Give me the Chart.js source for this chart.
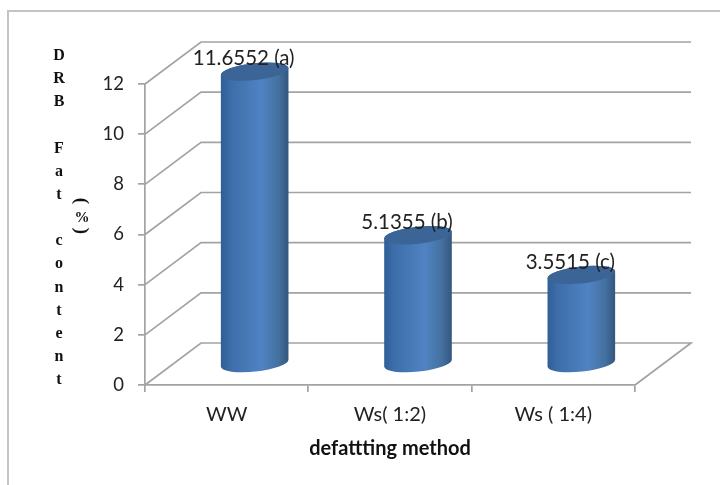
<!DOCTYPE html>
<html>
<head>
<meta charset="utf-8">
<script src="https://cdn.jsdelivr.net/npm/chart.js@4"></script>
<style>
html,body{margin:0;padding:0;background:#fff;overflow:hidden}
canvas{display:block;filter:blur(0.6px)}
</style>
</head>
<body>
<canvas id="c" width="720" height="485"></canvas>
<script>
const categories = ['WW', 'Ws( 1:2)', 'Ws ( 1:4)'];
const fatContent = [11.6552, 5.1355, 3.5515];
const significance = ['a', 'b', 'c'];
const yTitleLines = ['D','R','B','','F','a','t','','c','o','n','t','e','n','t'];
const xTitle = 'defattting method';
const depthX = 56, depthY = 42;
const gridColor = '#a3a3a3';

const canvasEl = document.getElementById('c');
canvasEl.getContext('2d').letterSpacing = '0.01px';

const scene = {
  id: 'scene',
  beforeDraw(chart) {
    const {ctx, scales: {x, y}} = chart;
    ctx.save();
    ctx.strokeStyle = '#c4c4c4'; ctx.lineWidth = 2;
    ctx.beginPath(); ctx.moveTo(720, 11); ctx.lineTo(8, 11); ctx.lineTo(8, 485); ctx.stroke();
    ctx.strokeStyle = gridColor; ctx.lineWidth = 1.7;
    const L = x.left, R = x.right;
    y.ticks.forEach(t => {
      const py = y.getPixelForValue(t.value);
      ctx.beginPath();
      ctx.moveTo(L, py);
      ctx.lineTo(L + depthX, py - depthY);
      ctx.lineTo(R + depthX, py - depthY);
      if (t.value === 0) ctx.lineTo(R, py);
      ctx.stroke();
    });
    // stacked axis title
    ctx.fillStyle = '#111';
    ctx.font = 'bold 16px "Liberation Serif"';
    ctx.textAlign = 'center'; ctx.textBaseline = 'middle';
    yTitleLines.forEach((s, i) => { if (s) ctx.fillText(s, 59, 56 + i * 23.15); });
    ctx.font = 'bold 15px "Liberation Serif"';
    ctx.fillText('%', 82, 218);
    [['(', 201], [')', 231]].forEach(([s, py]) => {
      ctx.save(); ctx.translate(81, py); ctx.rotate(Math.PI / 2);
      ctx.font = 'bold 19px "Liberation Serif"'; ctx.fillText(s, 0, 0); ctx.restore();
    });
    ctx.restore();
  },
  beforeDatasetDraw(chart, args) {
    const {ctx} = chart;
    const meta = args.meta;
    const tilt = -6.2 * Math.PI / 180, ry = 8.5;
    meta.data.forEach(bar => {
      const cx = bar.x + depthX / 2, top = bar.y - depthY / 2, base = bar.base - depthY / 2;
      const rx = bar.width / 2;
      const g = ctx.createLinearGradient(cx - rx, 0, cx + rx, 0);
      g.addColorStop(0, '#2f5e95'); g.addColorStop(0.15, '#3d6ea9');
      g.addColorStop(0.6, '#5083c3'); g.addColorStop(0.85, '#44719f'); g.addColorStop(1, '#33567f');
      ctx.save();
      ctx.beginPath();
      ctx.ellipse(cx, top, rx, ry, tilt, Math.PI, 0, false);
      ctx.ellipse(cx, base, rx, ry, tilt, 0, Math.PI, false);
      ctx.closePath();
      ctx.fillStyle = g; ctx.fill();
      ctx.beginPath();
      ctx.ellipse(cx, top, rx, ry, tilt, 0, Math.PI * 2);
      ctx.fillStyle = '#3a6596'; ctx.fill();
      ctx.restore();
    });
    return false;
  },
  afterDatasetsDraw(chart) {
    const {ctx} = chart;
    const meta = chart.getDatasetMeta(0);
    ctx.save();
    ctx.fillStyle = '#222';
    ctx.font = '20.5px Lato';
    ctx.textAlign = 'center'; ctx.textBaseline = 'middle';
    meta.data.forEach((bar, i) => {
      const label = fatContent[i].toFixed(4) + ' (' + significance[i] + ')';
      ctx.fillText(label, bar.x + 17, bar.y - depthY / 2 - 13);
    });
    ctx.restore();
  }
};

new Chart(canvasEl, {
  type: 'bar',
  data: {
    labels: categories,
    datasets: [{data: fatContent, backgroundColor: '#4f81bd', barThickness: 68}]
  },
  plugins: [scene],
  options: {
    responsive: false,
    animation: false,
    layout: {autoPadding: false, padding: {left: 0, right: 85, top: 84, bottom: 0}},
    plugins: {legend: {display: false}, tooltip: {enabled: false}, title: {display: false}},
    scales: {
      x: {
        afterFit(s) { s.height = 100; },
        grid: {offset: true, drawOnChartArea: false, drawTicks: true, tickLength: 7, color: gridColor, lineWidth: 1.7},
        border: {color: gridColor, width: 1.7},
        ticks: {color: '#222', font: {family: 'Lato', size: 20}, padding: 11, maxRotation: 0},
        title: {display: true, text: xTitle, color: '#111', font: {family: 'Lato', size: 20, weight: 'bold'}, padding: {top: 12, bottom: 24}}
      },
      y: {
        min: 0, max: 12,
        afterFit(s) { s.width = 145; },
        grid: {drawOnChartArea: false, drawTicks: true, tickLength: 7, color: gridColor, lineWidth: 1.7},
        border: {color: gridColor, width: 1.7},
        ticks: {stepSize: 2, color: '#222', font: {family: 'Lato', size: 18.5}, padding: 14}
      }
    }
  }
});
</script>
</body>
</html>
